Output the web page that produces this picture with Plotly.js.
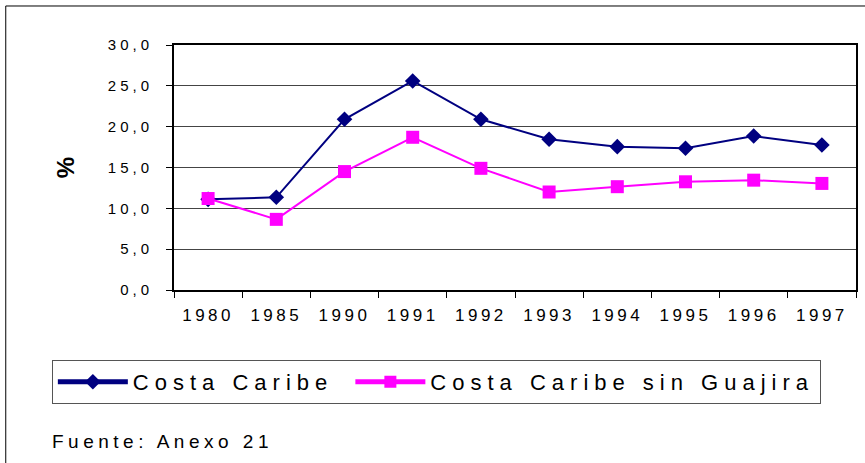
<!DOCTYPE html>
<html>
<head>
<meta charset="utf-8">
<script src="https://cdn.plot.ly/plotly-3.0.1.min.js"></script>
<style>
  html, body { margin: 0; padding: 0; background: #fff; }
  #chart { width: 865px; height: 463px; }
  .xtick text { letter-spacing: 3.5px; }
  .ytick text { letter-spacing: 4px; }
  .legendtext { letter-spacing: 6px; }
  .annotation-text { letter-spacing: 4.5px; }
</style>
</head>
<body>
<div id="chart"></div>
<script>
const years = ["1980", "1985", "1990", "1991", "1992", "1993", "1994", "1995", "1996", "1997"];
const costaCaribe = [11.1, 11.35, 20.9, 25.6, 20.9, 18.45, 17.55, 17.35, 18.85, 17.75];
const costaCaribeSinGuajira = [11.2, 8.65, 14.5, 18.7, 14.9, 12.0, 12.65, 13.25, 13.45, 13.05];
const seriesNames = ["Costa Caribe", "Costa Caribe sin Guajira"];
const yTitle = "%";
const sourceNote = "Fuente: Anexo 21";

const FONT = '"Liberation Sans", Arial, sans-serif';

const traces = [
  {
    x: years, y: costaCaribe, name: seriesNames[0] + '\u00a0', type: 'scatter', mode: 'lines+markers',
    line: { color: '#000080', width: 2 },
    marker: { symbol: 'diamond', size: 12, color: '#000080' }
  },
  {
    x: years, y: costaCaribeSinGuajira, name: seriesNames[1], type: 'scatter', mode: 'lines+markers',
    line: { color: '#FF00FF', width: 2 },
    marker: { symbol: 'square', size: 13, color: '#FF00FF' }
  }
];

const layout = {
  width: 865, height: 463,
  margin: { l: 174, r: 9, t: 45, b: 173 },
  paper_bgcolor: '#fff', plot_bgcolor: '#fff',
  separators: ',.',
  font: { family: FONT, color: '#000' },
  showlegend: true,
  xaxis: {
    type: 'category', range: [-0.5, 9.5],
    showline: true, linecolor: '#000', linewidth: 2, mirror: true,
    ticks: 'outside', ticklen: 6, tickcolor: '#000', tickwidth: 1,
    tickson: 'boundaries', showgrid: false, zeroline: false,
    tickfont: { family: FONT, size: 17, color: '#000' },
    ticklabelstandoff: 9
  },
  yaxis: {
    range: [0, 30], dtick: 5, tickformat: '.1f',
    showline: true, linecolor: '#000', linewidth: 2, mirror: true,
    ticks: 'outside', ticklen: 6, tickcolor: '#000', tickwidth: 1,
    showgrid: true, gridcolor: '#444', gridwidth: 1, zeroline: false,
    tickfont: { family: FONT, size: 15, color: '#000' },
    ticklabelstandoff: 10,
    title: { text: yTitle, font: { family: FONT, size: 24, color: '#000', weight: 'bold' }, standoff: 26 }
  },
  legend: {
    orientation: 'h', x: -0.1791, y: -0.2857, xanchor: 'left', yanchor: 'top',
    bgcolor: '#fff', bordercolor: '#555', borderwidth: 1,
    font: { family: FONT, size: 22, color: '#000' },
    itemwidth: 70, itemsizing: 'constant'
  },
  annotations: [
    {
      text: sourceNote, xref: 'paper', yref: 'paper', x: -0.1818, y: -0.568,
      xanchor: 'left', yanchor: 'top', showarrow: false,
      font: { family: FONT, size: 19, color: '#000' }
    }
  ],
  shapes: [
    {
      type: 'rect', xref: 'paper', yref: 'paper',
      x0: -0.2467, x1: 1.2, y0: -1.0, y1: 1.1592,
      line: { color: '#000', width: 1 }, fillcolor: 'rgba(0,0,0,0)', layer: 'below'
    }
  ]
};

Plotly.newPlot('chart', traces, layout, { displayModeBar: false, staticPlot: true });
</script>
</body>
</html>
